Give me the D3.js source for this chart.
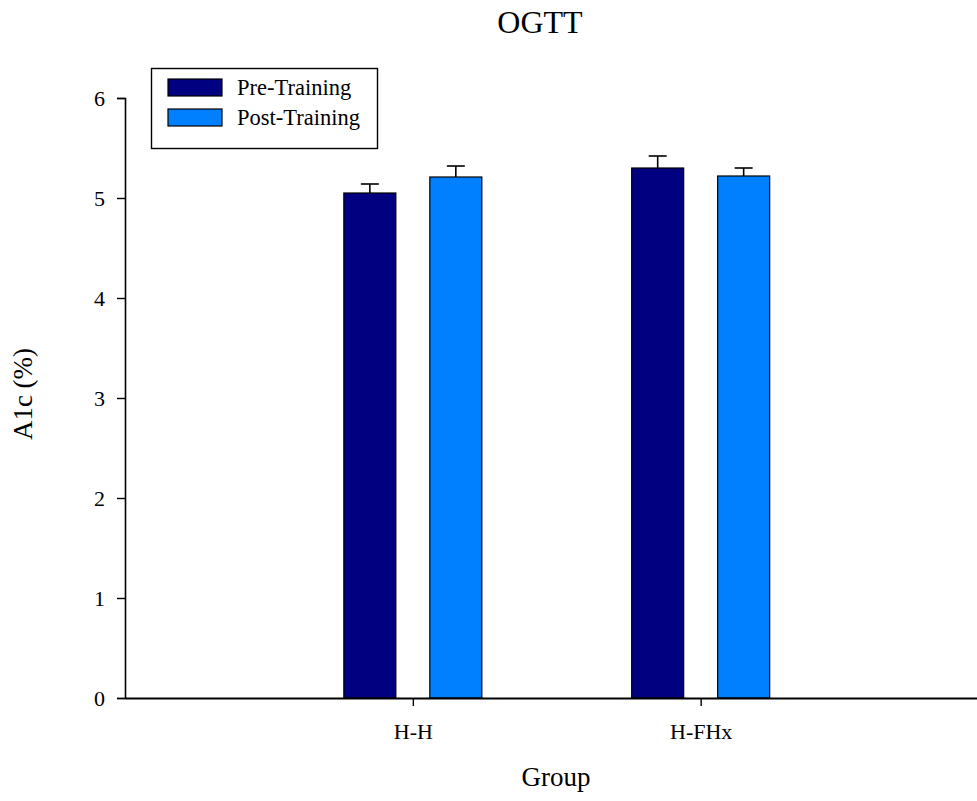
<!DOCTYPE html>
<html>
<head>
<meta charset="utf-8">
<script src="https://cdn.jsdelivr.net/npm/d3@7/dist/d3.min.js"></script>
<style>
  body { margin: 0; background: #fff; }
  svg { display: block; font-family: "Liberation Serif", "Times New Roman", serif; }
</style>
</head>
<body>
<svg id="chart" width="977" height="801"></svg>
<script>
// A1c (%) before and after training, by group
const groups = ["H-H", "H-FHx"];
const seriesNames = ["Pre-Training", "Post-Training"];
const preValues = [5.05, 5.30];
const postValues = [5.21, 5.22];
const preErrors = [0.09, 0.12];
const postErrors = [0.11, 0.08];
const yTicks = [0, 1, 2, 3, 4, 5, 6];
const colors = ["#000080", "#0080ff"];

const svg = d3.select("#chart");
const plot = { left: 125, right: 977, top: 98, bottom: 698 };

const x = d3.scaleLinear().domain([0, 2.96]).range([plot.left, plot.right]);
const y = d3.scaleLinear().domain([0, 6]).range([plot.bottom, plot.top]);
// position of each series' bar relative to its group centre
const offset = d3.scaleBand().domain(seriesNames).range([-69, 69]).paddingInner(0.395).paddingOuter(0);

const rows = [];
groups.forEach((g, i) => {
  rows.push({ group: g, idx: i + 1, series: seriesNames[0], value: preValues[i], err: preErrors[i], color: colors[0] });
  rows.push({ group: g, idx: i + 1, series: seriesNames[1], value: postValues[i], err: postErrors[i], color: colors[1] });
});

// Error bars (upper only)
const eb = svg.append("g").attr("stroke", "#000").attr("stroke-width", 1.6);
rows.forEach(d => {
  const cx = x(d.idx) + offset(d.series) + offset.bandwidth() / 2;
  eb.append("line").attr("x1", cx).attr("x2", cx).attr("y1", y(d.value)).attr("y2", y(d.value + d.err));
  eb.append("line").attr("x1", cx - 9).attr("x2", cx + 9).attr("y1", y(d.value + d.err)).attr("y2", y(d.value + d.err));
});

// Bars
svg.append("g").selectAll("rect").data(rows).join("rect")
  .attr("x", d => x(d.idx) + offset(d.series))
  .attr("width", offset.bandwidth())
  .attr("y", d => y(d.value))
  .attr("height", d => y(0) - y(d.value))
  .attr("fill", d => d.color)
  .attr("stroke", "#000")
  .attr("stroke-width", 1.2);

// Y axis
const yAxis = svg.append("g").attr("transform", `translate(${plot.left},0)`)
  .call(d3.axisLeft(y).tickValues(yTicks).tickSize(8).tickPadding(12).tickFormat(d3.format("d")));
yAxis.attr("font-size", 22).attr("font-family", null);
yAxis.select(".domain").attr("stroke-width", 1.6);
yAxis.selectAll(".tick line").attr("stroke-width", 1.4);
yAxis.selectAll("text").attr("fill", "#000");

// X axis
const xAxis = svg.append("g").attr("transform", `translate(0,${plot.bottom})`)
  .call(d3.axisBottom(x).tickValues([1, 2]).tickSize(8).tickSizeOuter(0).tickPadding(17)
    .tickFormat(d => groups[d - 1]));
xAxis.attr("font-size", 22).attr("font-family", null);
xAxis.select(".domain").attr("stroke-width", 1.8);
xAxis.selectAll(".tick line").attr("stroke-width", 1.4);
xAxis.selectAll("text").attr("fill", "#000");

// Titles
svg.append("text").attr("x", 540).attr("y", 33).attr("text-anchor", "middle")
  .attr("font-size", 32).text("OGTT");
svg.append("text").attr("x", 556).attr("y", 786).attr("text-anchor", "middle")
  .attr("font-size", 27).text("Group");
svg.append("text").attr("transform", "translate(32,394) rotate(-90)").attr("text-anchor", "middle")
  .attr("font-size", 27).text("A1c (%)");

// Legend
const lg = svg.append("g");
lg.append("rect").attr("x", 151.5).attr("y", 68.5).attr("width", 226).attr("height", 80)
  .attr("fill", "#fff").attr("stroke", "#000").attr("stroke-width", 1.4);
seriesNames.forEach((s, i) => {
  lg.append("rect").attr("x", 168).attr("y", 79 + i * 30).attr("width", 54).attr("height", 17)
    .attr("fill", colors[i]).attr("stroke", "#000").attr("stroke-width", 1.2);
  lg.append("text").attr("x", 237).attr("y", 95 + i * 30).attr("font-size", 22.5).text(s);
});
</script>
</body>
</html>
